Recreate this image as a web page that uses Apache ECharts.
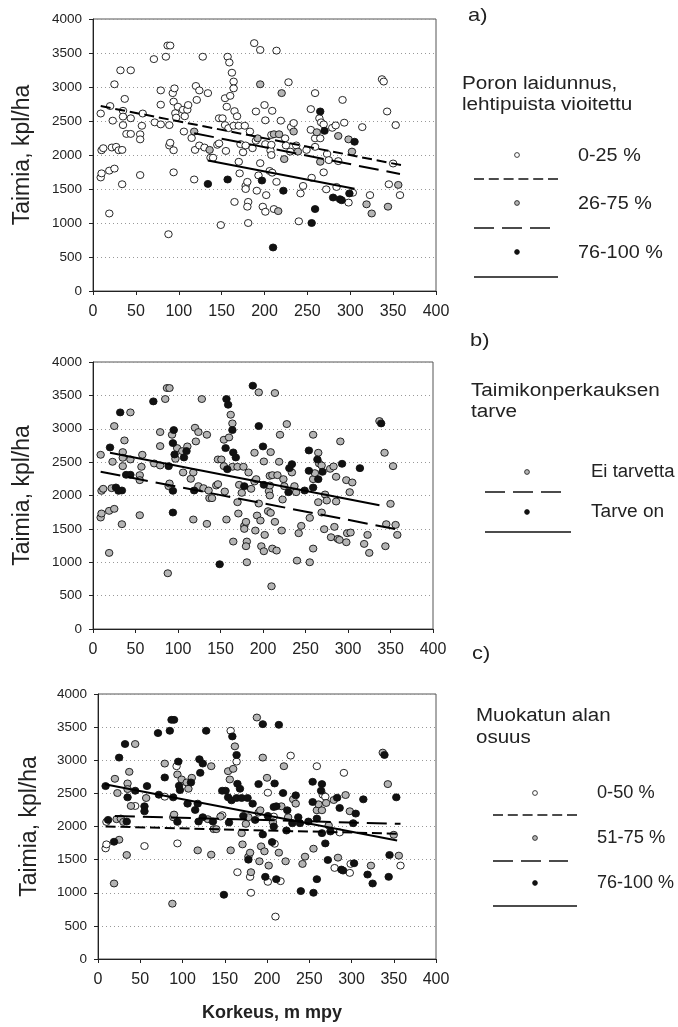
<!DOCTYPE html>
<html lang="fi">
<head>
<meta charset="UTF-8">
<title>Taimia ja korkeus</title>
<style>
  html, body { margin: 0; padding: 0; background: #fff; }
  #main { width: 678px; height: 1027px; }
</style>
<script src="https://cdn.jsdelivr.net/npm/echarts@6.0.0/dist/echarts.min.js"></script>
</head>
<body>
<div id="main"></div>
<script>
// korkeus (m mpy) and taimia (kpl/ha) of each stand, same stands in all three panels
var elevation = [
  9, 10, 12, 9, 10, 20, 19, 19, 23, 25,
  22, 25, 27, 30, 32, 34, 34, 35, 35, 35,
  37, 39, 44, 44, 44, 55, 55, 55, 57, 58,
  71, 72, 79, 79, 79, 85, 87, 90, 88, 89,
  89, 90, 93, 95, 94, 94, 94, 96, 97, 99,
  105, 106, 107, 110, 111, 115, 118, 118, 119, 120,
  121, 124, 124, 128, 130, 134, 134, 136, 137, 140,
  145, 147, 147, 151, 149, 154, 155, 154, 156, 157,
  157, 159, 160, 158, 162, 164, 164, 165, 165, 164,
  168, 170, 170, 171, 172, 175, 177, 178, 178, 178,
  180, 181, 180, 181, 183, 186, 188, 190, 190, 191,
  192, 193, 195, 195, 195, 197, 198, 201, 206, 202,
  200, 201, 201, 207, 208, 211, 209, 209, 208, 208,
  210, 211, 214, 214, 216, 217, 219, 220, 222, 223,
  224, 225, 228, 230, 231, 234, 234, 237, 239, 240,
  242, 245, 249, 254, 254, 255, 255, 259, 259, 259,
  259, 261, 264, 265, 265, 265, 266, 269, 269, 270,
  272, 273, 275, 279, 280, 283, 284, 286, 286, 288,
  290, 291, 293, 298, 298, 299, 302, 303, 305, 314,
  319, 323, 325, 337, 339, 343, 344, 345, 350, 353,
  356, 358
];
var seedlings = [
  2610, 2070, 2100, 1670, 1730, 2720, 1770, 1140, 2505, 3040,
  2110, 1800, 2120, 2070, 3245, 2075, 1570, 2650, 2565, 2440,
  2825, 2310, 2310, 3245, 2540, 2305, 2230, 1705, 2430, 2610,
  3410, 2480, 2950, 2740, 2450, 3445, 3610, 3610, 835, 2440,
  2140, 2180, 2910, 2980, 2070, 1745, 2785, 2615, 2550, 2710,
  2665, 2345, 2570, 2665, 2735, 2250, 2345, 1640, 2075, 3015,
  2810, 2950, 2140, 3445, 2110, 2910, 1575, 2075, 1960, 1960,
  2150, 2170, 2540, 2540, 970, 2440, 2060, 2835, 2710, 3445,
  1640, 3360, 2870, 2395, 3210, 3080, 2980, 2645, 1310, 2430,
  2570, 2430, 1900, 1730, 2160, 2040, 2430, 2140, 1545, 1500,
  1605, 1310, 1240, 1000, 2345, 2100, 3645, 2640, 2210, 1475,
  2245, 1700, 3545, 3040, 1880, 1625, 1240, 1165, 1765, 1410,
  2735, 2510, 2160, 2065, 2295, 2305, 2650, 1740, 2150, 2000,
  640, 1205, 3535, 1605, 1175, 2305, 2505, 2910, 1475, 1940,
  2245, 2140, 3070, 2050, 2410, 2470, 2345, 2140, 2050, 1025,
  1435, 1545, 2075, 2675, 2370, 1665, 1000, 1205, 2910, 2245,
  2120, 2335, 2540, 2640, 2245, 1900, 2480, 2450, 1745, 2355,
  1495, 2015, 1925, 2400, 1375, 2435, 1530, 2280, 1910, 1350,
  1335, 2810, 2475, 2230, 1300, 1435, 2050, 1445, 2195, 2410,
  1275, 1410, 1140, 3115, 3080, 2640, 1240, 1570, 1875, 2440,
  1560, 1410
];
// class of each stand: 0 = white, 1 = grey, 2 = black marker
var grazingClass = [
  0, 0, 0, 0, 0, 0, 0, 0, 0, 0,
  0, 0, 0, 0, 0, 0, 0, 0, 0, 0,
  0, 0, 0, 0, 0, 0, 0, 0, 0, 0,
  0, 0, 0, 0, 0, 0, 0, 0, 0, 0,
  0, 0, 0, 0, 0, 0, 0, 0, 0, 0,
  0, 0, 0, 0, 0, 0, 1, 0, 0, 0,
  0, 0, 0, 0, 0, 0, 2, 1, 0, 0,
  0, 0, 0, 0, 0, 0, 0, 0, 0, 0,
  2, 0, 0, 0, 0, 0, 0, 0, 0, 0,
  0, 0, 0, 0, 0, 0, 0, 0, 0, 0,
  0, 0, 0, 0, 0, 0, 0, 0, 0, 0,
  1, 0, 0, 1, 0, 2, 0, 0, 0, 0,
  0, 0, 0, 0, 0, 1, 0, 0, 0, 0,
  2, 0, 0, 0, 1, 1, 0, 1, 2, 1,
  0, 0, 0, 0, 0, 0, 1, 0, 1, 0,
  0, 0, 0, 0, 0, 0, 2, 2, 0, 0,
  0, 1, 0, 2, 0, 1, 0, 0, 0, 2,
  0, 0, 0, 0, 2, 0, 0, 1, 0, 2,
  2, 0, 0, 1, 0, 2, 1, 0, 2, 0,
  1, 0, 1, 0, 0, 0, 1, 0, 0, 0,
  1, 0
];
var weedingClass = [
  1, 1, 1, 1, 1, 2, 1, 1, 1, 1,
  1, 1, 2, 2, 2, 2, 1, 1, 1, 1,
  1, 2, 2, 1, 1, 1, 1, 1, 1, 1,
  2, 1, 1, 1, 1, 1, 1, 1, 1, 2,
  1, 1, 1, 2, 2, 2, 2, 2, 1, 1,
  1, 1, 2, 2, 1, 1, 1, 1, 2, 1,
  1, 1, 1, 1, 1, 1, 1, 1, 1, 1,
  1, 1, 1, 1, 2, 1, 1, 1, 2, 2,
  1, 2, 1, 2, 1, 1, 2, 2, 1, 1,
  2, 1, 1, 1, 1, 1, 1, 2, 1, 1,
  1, 1, 1, 1, 1, 1, 2, 1, 1, 1,
  1, 1, 1, 2, 1, 1, 1, 1, 1, 1,
  2, 1, 2, 1, 1, 1, 1, 1, 1, 1,
  1, 1, 1, 1, 1, 1, 1, 1, 1, 1,
  1, 1, 1, 2, 2, 2, 1, 1, 1, 1,
  1, 1, 2, 2, 2, 1, 1, 1, 1, 1,
  2, 1, 2, 1, 2, 1, 1, 1, 1, 2,
  1, 1, 1, 1, 1, 1, 1, 1, 1, 1,
  1, 1, 2, 1, 1, 1, 1, 1, 1, 2,
  1, 1, 1, 1, 2, 1, 1, 1, 1, 1,
  1, 1
];
var tillageClass = [
  2, 0, 2, 0, 0, 1, 2, 1, 1, 2,
  1, 1, 1, 1, 2, 2, 1, 1, 1, 2,
  1, 1, 0, 1, 2, 2, 2, 0, 1, 2,
  2, 2, 1, 2, 0, 2, 2, 2, 1, 2,
  1, 1, 0, 2, 2, 0, 1, 2, 2, 1,
  1, 2, 1, 2, 1, 2, 2, 1, 2, 2,
  2, 2, 2, 2, 1, 1, 1, 2, 1, 1,
  1, 0, 2, 2, 2, 2, 2, 1, 1, 0,
  1, 2, 1, 2, 1, 2, 0, 2, 0, 2,
  2, 2, 1, 1, 2, 1, 2, 1, 1, 2,
  1, 1, 0, 0, 2, 2, 1, 2, 1, 1,
  1, 1, 2, 1, 2, 1, 2, 0, 2, 1,
  1, 0, 2, 1, 2, 2, 2, 0, 0, 2,
  0, 2, 2, 1, 0, 1, 2, 1, 1, 2,
  2, 1, 0, 2, 1, 2, 1, 2, 2, 2,
  1, 1, 2, 2, 2, 1, 2, 2, 0, 1,
  2, 1, 2, 2, 1, 2, 0, 0, 2, 1,
  2, 1, 2, 1, 0, 2, 1, 2, 0, 2,
  2, 0, 1, 1, 0, 0, 2, 2, 2, 2,
  2, 1, 2, 1, 2, 1, 2, 2, 1, 2,
  1, 0
];
// regression lines [x1, y1, x2, y2]
var trendA = [[9, 2720, 360, 1850], [118, 2320, 358, 1720], [134, 1920, 305, 1505]];
var trendB = [[9, 2356, 357, 1494], [20, 2640, 337, 1853]];
var trendC = [[9, 2000, 358, 1890], [20, 2160, 358, 2040], [8, 2638, 354, 1789]];
var xTicks = [0, 400, 50];
var yTicks = [0, 4000, 500];

var font = '"Liberation Sans", Arial, sans-serif';
var fills = ['#ffffff', '#b4b4b4', '#111111'];
var dashes = {short: [10, 4.8], long: [20, 8], solid: 'solid'};

var chartDom = document.getElementById('main');
var myChart = echarts.init(chartDom);

var grids = [
  {left: 93, top: 19, width: 343, height: 272},
  {left: 93, top: 362, width: 340, height: 267},
  {left: 98, top: 694, width: 338, height: 265}
];

function pointsOf(classes, k) {
  var out = [];
  for (var i = 0; i < elevation.length; i++) {
    if (classes[i] === k) out.push([elevation[i], seedlings[i]]);
  }
  return out;
}

var series = [];
function addPanel(idx, classes, kinds, trends, lineKinds) {
  kinds.forEach(function (k) {
    series.push({
      type: 'scatter', xAxisIndex: idx, yAxisIndex: idx,
      data: pointsOf(classes, k),
      symbol: 'circle', symbolSize: [7.5, 7], silent: true,
      itemStyle: {color: fills[k], borderColor: '#111', borderWidth: 0.9, opacity: 1}
    });
  });
  trends.forEach(function (t, j) {
    series.push({
      type: 'line', xAxisIndex: idx, yAxisIndex: idx, z: 5,
      data: [[t[0], t[1]], [t[2], t[3]]],
      symbol: 'none', silent: true,
      lineStyle: {color: '#000', width: 2, type: dashes[lineKinds[j]]}
    });
  });
}
addPanel(0, grazingClass, [0, 1, 2], trendA, ['short', 'long', 'solid']);
addPanel(1, weedingClass, [1, 2], trendB, ['long', 'solid']);
addPanel(2, tillageClass, [0, 1, 2], trendC, ['short', 'long', 'solid']);

function plain(v) { return String(v); }

var xAxes = grids.map(function (g, i) {
  var ax = {
    type: 'value', gridIndex: i, min: xTicks[0], max: xTicks[1], interval: xTicks[2],
    axisLine: {show: true, lineStyle: {color: '#222', width: 1}},
    axisTick: {show: true, length: 4, lineStyle: {color: '#222'}},
    axisLabel: {fontSize: 16, color: '#222', margin: 13, fontFamily: font, formatter: plain},
    splitLine: {show: false}
  };
  if (i === 2) {
    ax.name = 'Korkeus, m mpy';
    ax.nameLocation = 'middle';
    ax.nameGap = 45;
    ax.nameTextStyle = {fontSize: 18, fontWeight: 'bold', color: '#222', fontFamily: font, padding: [0, 0, 0, 10]};
  }
  return ax;
});
var yAxes = grids.map(function (g, i) {
  return {
    type: 'value', gridIndex: i, min: yTicks[0], max: yTicks[1], interval: yTicks[2],
    name: 'Taimia, kpl/ha', nameLocation: 'middle', nameGap: i === 2 ? 57 : 59,
    nameTextStyle: {fontSize: 23, color: '#222', fontFamily: font},
    axisLine: {show: true, lineStyle: {color: '#222', width: 1}},
    axisTick: {show: true, length: 4, lineStyle: {color: '#222'}},
    axisLabel: {fontSize: 13.5, color: '#222', margin: 11, fontFamily: font, formatter: plain},
    splitLine: {show: true, lineStyle: {color: '#999', width: 1, type: [1, 3]}}
  };
});

// hand-made legends at the right of each panel
function txt(x, y, s, size, sx) {
  return {type: 'text', x: x, y: y, scaleX: sx, silent: true,
    style: {text: s, font: size + 'px ' + font, fill: '#222', verticalAlign: 'middle', textVerticalAlign: 'middle'}};
}
function dot(x, y, k) {
  return {type: 'circle', silent: true, shape: {cx: x, cy: y, r: 2.4},
    style: {fill: fills[k], stroke: '#111', lineWidth: 0.8}};
}
function seg(x1, x2, y, kind) {
  return {type: 'line', silent: true, shape: {x1: x1, y1: y, x2: x2, y2: y},
    style: {stroke: '#111', lineWidth: 1.7, lineDash: kind === 'solid' ? null : dashes[kind]}};
}
var graphic = [
  txt(468, 16, 'a)', 19, 1.15),
  txt(462, 84, 'Poron laidunnus,', 18, 1.15),
  txt(462, 105, 'lehtipuista vioitettu', 18, 1.15),
  dot(517, 155, 0), txt(578, 156, '0-25 %', 18, 1.1),
  seg(474, 558, 179, 'short'),
  dot(517, 203, 1), txt(578, 204, '26-75 %', 18, 1.1),
  seg(474, 550, 228, 'long'),
  dot(517, 252, 2), txt(578, 253, '76-100 %', 18, 1.1),
  seg(474, 558, 277, 'solid'),

  txt(470, 341, 'b)', 19, 1.15),
  txt(471, 391, 'Taimikonperkauksen', 18, 1.15),
  txt(471, 412, 'tarve', 18, 1.15),
  dot(527, 472, 1), txt(591, 472, 'Ei tarvetta', 18, 1.03),
  seg(485, 562, 492, 'long'),
  dot(527, 512, 2), txt(591, 512, 'Tarve on', 18, 1.06),
  seg(485, 571, 532, 'solid'),

  txt(472, 654, 'c)', 19, 1.15),
  txt(476, 716, 'Muokatun alan', 18, 1.14),
  txt(476, 738, 'osuus', 18, 1.14),
  dot(535, 793, 0), txt(597, 793, '0-50 %', 18, 1.01),
  seg(493, 577, 815, 'short'),
  dot(535, 838, 1), txt(597, 838, '51-75 %', 18, 1.02),
  seg(493, 568, 861, 'long'),
  dot(535, 883, 2), txt(597, 883, '76-100 %', 18, 1.0),
  seg(493, 577, 906, 'solid')
];

var option = {
  animation: false,
  backgroundColor: '#fff',
  textStyle: {fontFamily: font},
  grid: grids.map(function (g) {
    return {left: g.left, top: g.top, width: g.width, height: g.height, containLabel: false,
      show: true, borderColor: '#555', borderWidth: 1, backgroundColor: 'transparent'};
  }),
  xAxis: xAxes,
  yAxis: yAxes,
  series: series,
  graphic: graphic
};
myChart.setOption(option);
</script>
</body>
</html>
